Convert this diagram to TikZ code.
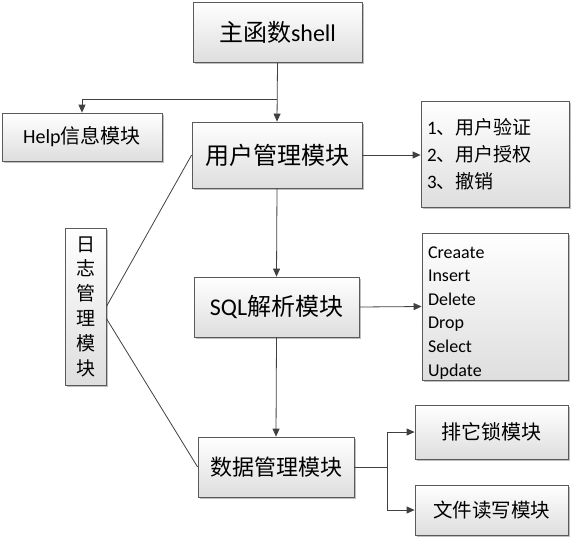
\documentclass[tikz,border=0pt]{standalone}
\usepackage{fontspec}
\setmainfont{Carlito}
\newfontfamily\cjk{Noto Sans CJK SC}
\usepackage{tikz}
\usetikzlibrary{positioning,arrows.meta,shadows}
\definecolor{linegray}{HTML}{404040}
\definecolor{boxline}{HTML}{5A5A5A}
\tikzset{
	modbox/.style={
			draw=boxline,
			line width=0.8pt,
			top color=white,
			bottom color=black!13,
			drop shadow={shadow xshift=2pt,shadow yshift=-2pt,opacity=0.25,fill=black},
			inner sep=0pt
		},
	conn/.style={draw=linegray,line width=0.8pt},
	arr/.style={conn,-{Triangle[length=8pt,width=7pt]}}
}

\begin{document}
\begin{tikzpicture}[x=1pt,y=-1pt]
		\useasboundingbox (0,0) rectangle (580,542);

		% Main
		\node[modbox,
			minimum width=169,
			minimum height=60,
			font=\fontsize{24}{28}\selectfont
		] (shell) at (277.5,32) {{\cjk 主函数}shell};

		% Help
		\node[modbox,
			minimum width=160,
			minimum height=48,
			font=\fontsize{20}{24}\selectfont
		] (help) at (82,137) {Help{\cjk 信息模块}};

		% User management
		\node[modbox,
			minimum width=170,
			minimum height=66,
			font=\cjk\fontsize{24}{28}\selectfont
		] (user) at (277,155) {用户管理模块};

		\node[modbox,
			text width=136,
			inner xsep=6pt,
			minimum height=106,
			align=left,
			font=\fontsize{19}{27}\selectfont
		] (userlist) at (495,154) {1{\cjk 、用户验证}\\2{\cjk 、用户授权}\\3{\cjk 、撤销}};

		% Log
		\node[modbox,
			minimum width=41,
			minimum height=157,
			align=center,
			font=\cjk\fontsize{19}{24.8}\selectfont
		] (log) at (85.5,306.5) {日\\志\\管\\理\\模\\块};

		% SQL parser
		\node[modbox,
			minimum width=165,
			minimum height=60,
			font=\fontsize{24}{28}\selectfont
		] (sql) at (276.5,307) {SQL{\cjk 解析模块}};

		\node[modbox,
			text width=134,
			inner xsep=6pt,
			minimum height=147,
			align=left,
			font=\fontsize{18}{23.6}\selectfont
		] (sqllist) at (495,306.5) {\rule{0pt}{24pt}Creaate\\Insert\\Delete\\Drop\\Select\\Update};

		% Data management
		\node[modbox,
			minimum width=156,
			minimum height=60,
			font=\cjk\fontsize{22}{26}\selectfont
		] (data) at (276,467) {数据管理模块};

		\node[modbox,
			minimum width=153,
			minimum height=54,
			font=\cjk\fontsize{20}{24}\selectfont
		] (lock) at (491.5,432) {排它锁模块};

		\node[modbox,
			minimum width=153,
			minimum height=50,
			font=\cjk\fontsize{19.5}{24}\selectfont
		] (file) at (491.5,510) {文件读写模块};

		% Arrows
		\coordinate (hsplit) at (277,99);
		\coordinate (dsplit) at (387,467);

		\draw[arr] (shell.south) -- (user.north);
		\draw[arr] (hsplit) -| (help.north);
		\draw[arr] (user.east) -- (user.east -| userlist.west);
		\draw[arr] (user.south) -- (sql.north);
		\draw[arr] (sql.east) -- (sqllist.west);
		\draw[arr] (sql.south) -- (data.north);

		\draw[conn] (data.east) -- (dsplit);
		\draw[arr] (dsplit) |- (lock.west);
		\draw[arr] (dsplit) |- (file.west);

		% Log lines
		\draw[conn] (log.east) -- (user.west);
		\draw[conn] ([yshift=-12pt]log.east) -- (data.west);
	\end{tikzpicture}
\end{document}
